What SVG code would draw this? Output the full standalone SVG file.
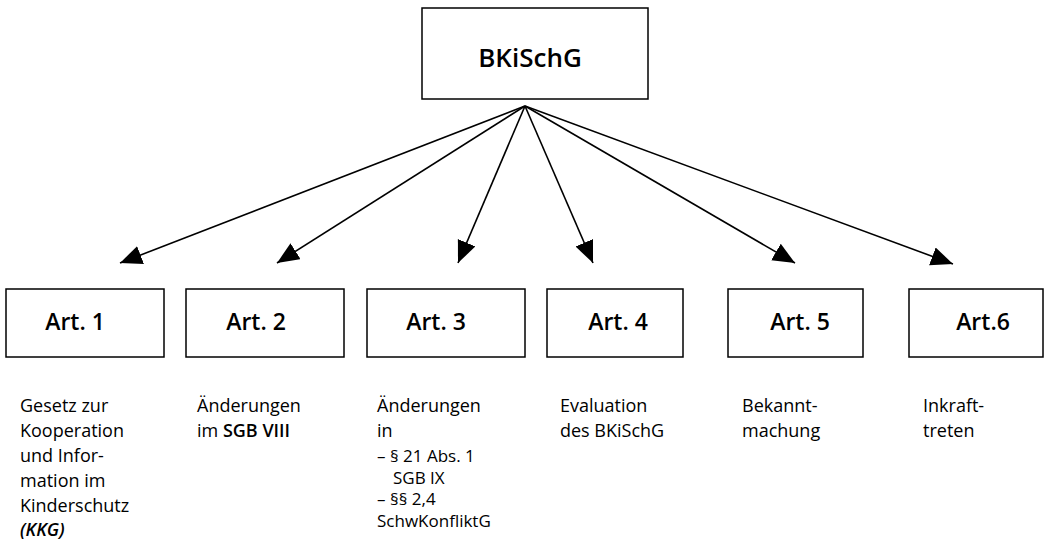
<svg xmlns="http://www.w3.org/2000/svg" width="1044" height="545" viewBox="0 0 1044 545">
<style>
  .box{fill:#fff;stroke:#000;stroke-width:1.5}
  .lbl{font-family:"Open Sans","Liberation Sans",sans-serif;font-weight:600;fill:#000}
  .txt{font-family:"Open Sans","Liberation Sans",sans-serif;font-size:18px;fill:#000}
  .sm{font-size:17px}
  .conn line{stroke:#000;stroke-width:1.6;marker-end:url(#ah)}
</style>
<defs>
  <marker id="ah" markerUnits="userSpaceOnUse" markerWidth="24" markerHeight="20" refX="22" refY="9.5" orient="auto">
    <path d="M0,0 L22,9.5 L0,19 z" fill="#000"/>
  </marker>
</defs>
<rect width="1044" height="545" fill="#fff"/>
<g id="connectors" class="conn">
  <line x1="525" y1="106" x2="120" y2="263"/>
  <line x1="525" y1="106" x2="277" y2="263"/>
  <line x1="525" y1="106" x2="458" y2="263"/>
  <line x1="525" y1="106" x2="593" y2="263"/>
  <line x1="525" y1="106" x2="795" y2="263"/>
  <line x1="525" y1="106" x2="953" y2="264"/>
</g>
<g id="bkischg">
  <rect class="box" x="422" y="8" width="226" height="91"/>
  <text class="lbl" x="530" y="67" font-size="26" text-anchor="middle">BKiSchG</text>
</g>
<g id="art1">
  <rect class="box" x="6" y="289" width="158" height="68"/>
  <text class="lbl" x="75" y="330" font-size="23" text-anchor="middle">Art. 1</text>
  <text class="txt"><tspan x="20" y="412">Gesetz zur</tspan><tspan x="20" y="437">Kooperation</tspan><tspan x="20" y="462">und Infor-</tspan><tspan x="20" y="487">mation im</tspan><tspan x="20" y="512">Kinderschutz</tspan><tspan x="20" y="536" font-weight="600" font-style="italic">(KKG)</tspan></text>
</g>
<g id="art2">
  <rect class="box" x="186" y="289" width="158" height="68"/>
  <text class="lbl" x="256" y="330" font-size="23" text-anchor="middle">Art. 2</text>
  <text class="txt"><tspan x="197" y="412">Änderungen</tspan><tspan x="197" y="437">im <tspan font-weight="600">SGB VIII</tspan></tspan></text>
</g>
<g id="art3">
  <rect class="box" x="367" y="289" width="158" height="68"/>
  <text class="lbl" x="436" y="330" font-size="23" text-anchor="middle">Art. 3</text>
  <text class="txt"><tspan x="377" y="412">Änderungen</tspan><tspan x="377" y="437">in</tspan><tspan class="sm" x="377" y="462">– § 21 Abs. 1</tspan><tspan class="sm" x="393" y="483.5">SGB IX</tspan><tspan class="sm" x="377" y="505">– §§ 2,4</tspan><tspan class="sm" x="377" y="526.5">SchwKonfliktG</tspan></text>
</g>
<g id="art4">
  <rect class="box" x="547" y="289" width="136" height="68"/>
  <text class="lbl" x="618" y="330" font-size="23" text-anchor="middle">Art. 4</text>
  <text class="txt"><tspan x="560" y="412">Evaluation</tspan><tspan x="560" y="437">des BKiSchG</tspan></text>
</g>
<g id="art5">
  <rect class="box" x="728" y="289" width="135" height="68"/>
  <text class="lbl" x="800" y="330" font-size="23" text-anchor="middle">Art. 5</text>
  <text class="txt"><tspan x="742" y="412">Bekannt-</tspan><tspan x="742" y="437">machung</tspan></text>
</g>
<g id="art6">
  <rect class="box" x="909" y="289" width="134" height="68"/>
  <text class="lbl" x="983" y="330" font-size="23" text-anchor="middle">Art.6</text>
  <text class="txt"><tspan x="923" y="412">Inkraft-</tspan><tspan x="923" y="437">treten</tspan></text>
</g>
</svg>
